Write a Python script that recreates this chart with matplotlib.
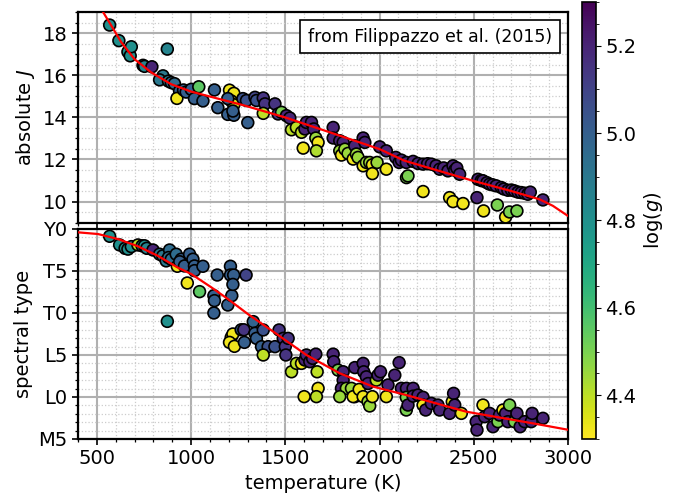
import matplotlib.pyplot as plt
from matplotlib.offsetbox import AnchoredText
import numpy as np

# upper panel: temperature (K), absolute J, log(g)
temp_j = [568, 617, 665, 677, 683, 874, 745, 753, 792, 851, 833, 880, 895, 912, 939, 925, 960, 974,
          1001, 1018, 1041, 1063, 1124, 1142, 1204, 1227, 1213, 1227, 1195, 1195, 1227, 1222, 1275, 1301,
          1294, 1339, 1347, 1383, 1392, 1445, 1383, 1462, 1480, 1506, 1524, 1533, 1559, 1586, 1604, 1612,
          1639, 1651, 1662, 1674, 1665, 1595, 1754, 1754, 1789, 1807, 1789, 1798, 1816, 1833, 1860, 1869,
          1877, 1886, 1913, 1922, 1913, 1930, 1948, 1962, 1962, 1987, 2001, 2036, 2036, 2086, 2104, 2116,
          2142, 2143, 2151, 2178, 2204, 2231, 2255, 2275, 2300, 2319, 2340, 2363, 2390, 2399, 2410, 2425,
          2231, 2372, 2390, 2443, 2517, 2522, 2540, 2549, 2570, 2584, 2600, 2619, 2646, 2660, 2681, 2700,
          2716, 2735, 2752, 2770, 2787, 2800, 2867, 2552, 2625, 2669, 2690, 2729]
absj = [18.38, 17.64, 17.11, 16.92, 17.35, 17.24, 16.47, 16.42, 16.4, 15.97, 15.78, 15.72, 15.65, 15.6,
        15.25, 14.9, 15.3, 15.2, 15.33, 14.89, 15.45, 14.78, 15.3, 14.46, 15.29, 15.14, 14.78, 14.6, 14.89,
        14.14, 14.1, 14.3, 14.89, 13.75, 14.8, 14.95, 14.8, 14.92, 14.64, 14.64, 14.19, 14.16, 14.24, 14.08,
        13.97, 13.41, 13.52, 13.29, 13.45, 13.76, 13.76, 13.45, 13.02, 12.81, 12.41, 12.54, 13.52, 13.02,
        12.89, 12.81, 12.41, 12.21, 12.49, 12.29, 12.02, 12.65, 12.26, 12.1, 13.02, 12.81, 11.7, 11.86,
        11.86, 11.75, 11.33, 11.86, 12.6, 12.41, 11.54, 12.1, 11.86, 11.97, 11.86, 11.14, 11.22, 11.91,
        11.81, 11.78, 11.8, 11.78, 11.7, 11.54, 11.6, 11.46, 11.7, 11.49, 11.6, 11.3, 10.48, 10.19, 10.0,
        9.91, 10.19, 11.06, 11.0, 10.99, 10.9, 10.83, 10.8, 10.75, 10.67, 10.6, 10.54, 10.55, 10.51, 10.45,
        10.43, 10.4, 10.35, 10.45, 10.08, 9.56, 9.84, 9.27, 9.51, 9.56]
logg_j = [4.8, 4.8, 4.8, 4.8, 4.8, 4.85, 4.85, 4.85, 5.2, 4.9, 4.9, 4.9, 4.95, 4.95, 5.0, 4.32, 5.0, 5.0,
          5.0, 5.0, 4.55, 5.0, 5.0, 5.0, 4.32, 4.32, 4.32, 4.35, 5.0, 5.0, 5.0, 5.0, 5.05, 5.0,
          5.05, 5.1, 5.05, 5.15, 5.15, 5.15, 4.4, 5.15, 4.5, 5.2, 5.2, 4.4, 4.4, 4.4, 5.2, 5.2,
          5.2, 5.2, 4.45, 4.32, 4.42, 4.32, 5.2, 5.2, 5.2, 5.2, 4.45, 4.32, 4.45, 4.45, 4.32, 5.2,
          4.45, 4.45, 5.2, 5.2, 4.32, 4.45, 4.45, 4.32, 4.32, 4.45, 5.2, 5.2, 4.32, 5.2, 5.2, 5.2,
          5.2, 4.5, 4.5, 5.2, 5.2, 5.2, 5.2, 5.2, 5.2, 5.2, 5.2, 5.2, 5.2, 5.2, 5.2, 5.2,
          4.32, 4.32, 4.32, 4.32, 5.2, 5.2, 5.2, 5.2, 5.2, 5.2, 5.2, 5.2, 5.2, 5.2, 5.2, 5.2,
          5.2, 5.2, 5.2, 5.2, 5.2, 5.2, 5.2, 4.32, 4.5, 4.32, 4.5, 4.5]

# lower panel: temperature (K), spectral type (M5=5, L0=10, L5=15, T0=20, T5=25, Y0=30), log(g)
temp_s = [568, 621, 650, 665, 683, 718, 740, 753, 765, 798, 833, 850, 868, 886, 880, 895, 921, 927, 948,
          940, 965, 992, 1010, 1018, 1018, 1063, 980, 1045, 1139, 1121, 1124, 1121, 1195, 1216, 1209, 1209,
          1226, 1222, 1292, 874, 1213, 1222, 1204, 1230, 1266, 1280, 1283, 1330, 1339, 1347, 1374, 1383,
          1409, 1445, 1467, 1489, 1500, 1515, 1503, 1383, 1533, 1559, 1586, 1604, 1612, 1630, 1645, 1662,
          1669, 1674, 1665, 1600, 1754, 1757, 1780, 1807, 1807, 1798, 1824, 1789, 1851, 1869, 1860, 1892,
          1869, 1913, 1916, 1930, 1939, 1913, 1939, 1948, 1962, 1983, 1992, 2005, 2036, 2045, 2081, 2104,
          2116, 2143, 2142, 2142, 2151, 2178, 2178, 2204, 2231, 2231, 2245, 2275, 2310, 2319, 2372, 2386,
          2393, 2399, 2434, 2513, 2517, 2549, 2558, 2584, 2602, 2628, 2637, 2655, 2669, 2690, 2681, 2716,
          2729, 2746, 2770, 2805, 2810, 2867]
spt = [29.13, 28.1, 27.7, 27.6, 27.9, 28.1, 28.0, 28.0, 27.7, 27.5, 27.0, 26.8, 26.2, 27.5, 26.6, 26.4,
       27.0, 25.56, 26.4, 26.1, 25.6, 27.0, 26.4, 25.6, 25.04, 25.56, 23.57, 22.54, 24.52, 22.06, 21.47,
       20.0, 20.95, 22.06, 25.56, 24.52, 24.52, 23.4, 24.52, 19.0, 17.1, 17.5, 16.5, 16.03, 18.0, 18.0,
       16.5, 18.97, 17.58, 16.98, 15.99, 17.98, 15.99, 15.99, 17.98, 16.98, 16.0, 16.98, 15.0, 15.0, 13.0,
       14.0, 14.0, 14.4, 15.0, 14.2, 14.6, 15.1, 13.0, 11.03, 10.04, 10.04, 15.1, 14.2, 13.2, 13.0, 12.0,
       11.03, 11.03, 10.04, 11.03, 10.04, 10.04, 10.9, 13.5, 14.0, 13.0, 12.4, 11.6, 10.04, 9.45, 8.93,
       10.04, 12.0, 12.6, 13.0, 10.04, 11.43, 12.6, 14.09, 11.03, 11.03, 9.96, 8.45, 9.04, 11.03, 10.1,
       10.23, 9.96, 9.04, 8.45, 9.24, 9.04, 8.45, 8.05, 9.44, 10.43, 9.04, 8.05, 7.06, 6.07, 9.04, 7.65,
       8.05, 6.46, 7.06, 7.85, 8.45, 8.05, 9.04, 7.06, 7.06, 8.05, 6.46, 7.06, 7.06, 8.05, 7.46]
logg_s = [4.8, 4.8, 4.8, 4.8, 4.8, 4.4, 4.8, 4.8, 4.85, 5.2, 4.9, 4.9, 4.9, 4.95, 4.95, 4.95, 4.95, 4.32,
          5.0, 5.0, 5.0, 5.0, 5.0, 5.0, 5.0, 5.0, 4.32, 4.55, 5.0, 5.0, 5.0, 5.0, 5.0, 5.0, 5.0, 5.0,
          5.0, 5.0, 5.1, 4.8, 4.32, 4.32, 4.32, 4.32, 5.0, 5.15, 5.0, 4.98, 5.0, 5.0, 5.0, 5.05,
          5.05, 5.05, 5.15, 5.15, 5.15, 5.15, 5.15, 4.4, 4.4, 4.4, 4.32, 5.2, 5.2, 5.2, 5.2, 5.2,
          4.4, 4.32, 4.4, 4.32, 5.2, 5.2, 4.5, 5.2, 5.2, 5.2, 4.45, 4.45, 4.45, 4.45, 4.32, 4.32,
          5.2, 5.2, 5.2, 5.2, 5.2, 4.32, 4.45, 4.45, 4.32, 4.4, 5.2, 5.2, 4.32, 5.2, 5.2, 5.2,
          5.2, 5.2, 4.5, 4.5, 5.2, 5.2, 5.2, 5.2, 5.2, 4.32, 5.2, 5.2, 5.2, 5.2, 5.2, 4.32,
          5.2, 5.2, 4.32, 5.2, 5.2, 4.32, 5.2, 5.2, 5.2, 4.5, 5.2, 4.32, 5.2, 4.5, 5.2, 4.5,
          5.2, 5.2, 5.2, 5.2, 5.2, 5.2]

# red relations
fit_t_j = [533, 577, 630, 700, 789, 895, 1001, 1142, 1280, 1498, 1736, 2001, 2130, 2300, 2496, 2700, 2849, 2920, 3000]
fit_j = [19.0, 18.35, 17.56, 16.76, 16.13, 15.57, 15.22, 14.89, 14.57, 14.0, 13.29, 12.49, 11.95, 11.5, 10.99, 10.5, 10.11, 9.8, 9.32]
fit_t_s = [400, 506, 612, 718, 824, 930, 1001, 1107, 1195, 1301, 1436, 1612, 1789, 1966, 2130, 2460, 2814, 3000]
fit_s = [29.6, 29.4, 28.8, 27.94, 26.8, 25.4, 24.64, 23.06, 21.67, 19.88, 17.78, 15.0, 12.82, 11.23, 10.3, 8.25, 6.86, 6.1]

spt_ticks = [5, 10, 15, 20, 25, 30]
spt_names = ['M5', 'L0', 'L5', 'T0', 'T5', 'Y0']

plt.rcParams['font.size'] = 14

fig = plt.figure(figsize=(6.92, 4.98), dpi=100)
ax1 = fig.add_axes([0.1127, 0.5528, 0.7081, 0.4231])
ax2 = fig.add_axes([0.1127, 0.1185, 0.7081, 0.4217])
cax = fig.add_axes([0.8406, 0.1185, 0.0204, 0.8775])

for ax in [ax1, ax2]:
    ax.set_axisbelow(True)
    ax.grid(which='major', color='#b0b0b0', lw=1.5)
    ax.grid(which='minor', color='#cccccc', lw=0.9, ls=':')
    ax.set_xlim(400, 3000)
    ax.set_xticks([500, 1000, 1500, 2000, 2500, 3000])
    ax.set_xticks(np.arange(400, 3001, 100), minor=True)
    for s in ax.spines.values():
        s.set_linewidth(1.6)
    ax.tick_params(which='major', length=4, width=1.2)
    ax.tick_params(which='minor', length=2.5, width=0.9)

sc = ax1.scatter(temp_j, absj, c=logg_j, cmap='viridis_r', vmin=4.3, vmax=5.3, s=72,
                 edgecolors='k', linewidths=1.2, zorder=3)
ax1.plot(fit_t_j, fit_j, color='red', lw=1.6, zorder=4)
ax1.set_ylim(9, 19)
ax1.set_yticks([10, 12, 14, 16, 18])
ax1.set_yticks(np.arange(9, 19.01, 0.5), minor=True)
ax1.tick_params(labelbottom=False)
ax1.set_ylabel('absolute $J$')
at = AnchoredText('from Filippazzo et al. (2015)', loc='upper right', prop=dict(size=12.5),
                  pad=0.15, borderpad=0.75)
at.patch.set_boxstyle('square')
at.patch.set_linewidth(1.2)
ax1.add_artist(at)

ax2.scatter(temp_s, spt, c=logg_s, cmap='viridis_r', vmin=4.3, vmax=5.3, s=72,
            edgecolors='k', linewidths=1.2, zorder=3)
ax2.plot(fit_t_s, fit_s, color='red', lw=1.6, zorder=4)
ax2.set_ylim(5, 30)
ax2.set_yticks(spt_ticks)
ax2.set_yticklabels(spt_names)
ax2.set_yticks(np.arange(5, 31, 1), minor=True)
ax2.set_ylabel('spectral type')
ax2.set_xlabel('temperature (K)')

cb = fig.colorbar(sc, cax=cax)
cb.set_ticks([4.4, 4.6, 4.8, 5.0, 5.2])
cb.ax.yaxis.set_ticks(np.arange(4.3, 5.31, 0.05), minor=True)
cb.set_label('log($g$)')
cb.outline.set_linewidth(1.2)

fig.align_ylabels([ax1, ax2])
plt.savefig('out.png', dpi=100)
